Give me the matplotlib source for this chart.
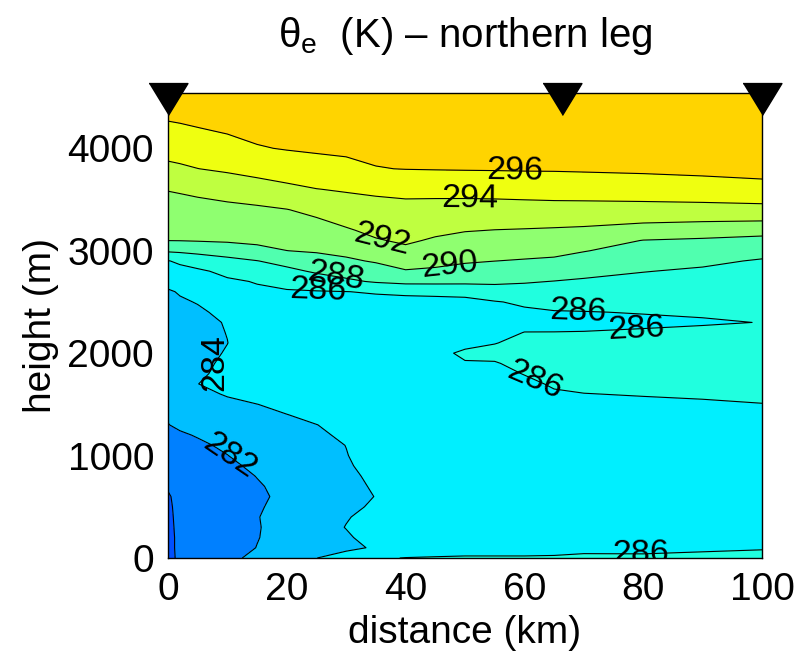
import matplotlib
matplotlib.use("Agg")
import matplotlib.pyplot as plt
import numpy as np

plt.rcParams["font.family"] = ["Liberation Sans", "DejaVu Sans"]
plt.rcParams["mathtext.fontset"] = "custom"
plt.rcParams["mathtext.rm"] = "Liberation Sans"
plt.rcParams["mathtext.it"] = "Liberation Sans:italic"

# section grid: distance along the leg (km) and height (m)
distance_km = [0, 2, 5, 10, 15, 20, 25, 30, 35, 40, 45, 50, 55, 60, 65, 70, 80, 90, 100]
height_m = [0, 100, 200, 300, 400, 500, 600, 700, 800, 900, 1000, 1100, 1200, 1300,
            1400, 1500, 1600, 1700, 1800, 1900, 2000, 2100, 2200, 2300, 2400, 2500,
            2600, 2700, 2800, 2900, 3000, 3100, 3200, 3400, 3600, 3800, 4000, 4200,
            4400, 4550]

# equivalent potential temperature (K), one row per height
theta_e = [
    [279.70, 280.20, 280.90, 281.60, 282.40, 283.20, 283.98, 284.80, 285.80, 286.05, 286.10, 286.10, 286.10, 286.10, 286.15, 286.20, 286.25, 286.35, 286.40],
    [279.75, 280.20, 280.90, 281.40, 282.03, 282.60, 283.10, 283.60, 284.20, 284.80, 285.30, 285.60, 285.60, 285.60, 285.55, 285.73, 285.63, 285.77, 285.90],
    [279.75, 280.20, 280.90, 281.40, 281.95, 282.50, 283.10, 283.80, 284.60, 285.10, 285.40, 285.40, 285.40, 285.40, 285.40, 285.40, 285.45, 285.50, 285.55],
    [279.80, 280.20, 280.95, 281.45, 281.92, 282.50, 283.30, 284.05, 284.80, 285.20, 285.40, 285.40, 285.40, 285.40, 285.40, 285.40, 285.45, 285.50, 285.50],
    [279.80, 280.25, 280.95, 281.45, 281.95, 282.50, 283.20, 283.90, 284.50, 285.00, 285.30, 285.35, 285.35, 285.35, 285.35, 285.35, 285.40, 285.40, 285.45],
    [279.85, 280.25, 281.00, 281.50, 281.90, 282.30, 282.90, 283.60, 284.25, 284.80, 285.20, 285.35, 285.35, 285.35, 285.35, 285.35, 285.40, 285.40, 285.45],
    [279.90, 280.30, 281.00, 281.50, 281.85, 282.20, 282.70, 283.35, 284.05, 284.70, 285.10, 285.30, 285.35, 285.35, 285.35, 285.35, 285.40, 285.40, 285.45],
    [280.10, 280.60, 281.05, 281.50, 281.90, 282.30, 282.80, 283.50, 284.20, 284.80, 285.20, 285.30, 285.35, 285.35, 285.35, 285.35, 285.40, 285.40, 285.45],
    [280.40, 280.80, 281.20, 281.60, 282.03, 282.50, 283.00, 283.60, 284.40, 284.90, 285.20, 285.35, 285.35, 285.35, 285.35, 285.35, 285.40, 285.40, 285.45],
    [280.70, 281.00, 281.35, 281.75, 282.25, 282.70, 283.20, 283.80, 284.60, 285.00, 285.20, 285.35, 285.35, 285.35, 285.35, 285.35, 285.40, 285.40, 285.45],
    [281.00, 281.30, 281.60, 281.98, 282.50, 283.00, 283.45, 283.95, 284.60, 285.00, 285.20, 285.35, 285.35, 285.35, 285.35, 285.35, 285.40, 285.40, 285.45],
    [281.30, 281.55, 281.80, 282.20, 282.70, 283.15, 283.55, 284.02, 284.60, 285.00, 285.20, 285.35, 285.35, 285.35, 285.35, 285.35, 285.40, 285.40, 285.45],
    [281.65, 281.85, 282.08, 282.50, 282.95, 283.35, 283.75, 284.25, 284.70, 285.00, 285.20, 285.35, 285.35, 285.35, 285.35, 285.35, 285.40, 285.40, 285.45],
    [281.97, 282.20, 282.50, 282.85, 283.20, 283.55, 283.98, 284.40, 284.75, 285.00, 285.20, 285.35, 285.35, 285.35, 285.35, 285.35, 285.40, 285.45, 285.50],
    [282.12, 282.35, 282.70, 283.10, 283.50, 283.98, 284.40, 284.70, 284.90, 285.05, 285.20, 285.35, 285.35, 285.40, 285.40, 285.40, 285.40, 285.50, 285.60],
    [282.27, 282.55, 282.95, 283.45, 283.98, 284.45, 284.75, 284.95, 285.05, 285.10, 285.20, 285.35, 285.40, 285.45, 285.50, 285.60, 285.75, 285.85, 285.97],
    [282.42, 282.80, 283.35, 284.20, 284.65, 284.90, 285.00, 285.10, 285.10, 285.15, 285.20, 285.35, 285.45, 285.55, 285.85, 285.97, 286.07, 286.15, 286.25],
    [282.57, 283.10, 283.98, 284.60, 284.85, 285.00, 285.05, 285.10, 285.10, 285.15, 285.20, 285.40, 285.50, 285.70, 286.15, 286.30, 286.40, 286.45, 286.45],
    [282.72, 283.20, 283.85, 284.25, 284.80, 285.00, 285.05, 285.10, 285.15, 285.20, 285.25, 285.50, 285.60, 286.05, 286.40, 286.50, 286.60, 286.60, 286.60],
    [282.86, 283.30, 283.80, 284.15, 284.70, 284.95, 285.05, 285.10, 285.15, 285.20, 285.30, 285.90, 285.90, 286.40, 286.55, 286.60, 286.70, 286.70, 286.65],
    [283.01, 283.35, 283.70, 284.07, 284.60, 284.90, 285.05, 285.10, 285.15, 285.20, 285.60, 286.25, 286.40, 286.50, 286.55, 286.60, 286.70, 286.70, 286.60],
    [283.16, 283.45, 283.70, 283.99, 284.50, 284.85, 285.00, 285.10, 285.15, 285.20, 285.30, 285.60, 285.95, 286.35, 286.40, 286.45, 286.55, 286.60, 286.45],
    [283.31, 283.55, 283.75, 284.02, 284.50, 284.85, 285.00, 285.10, 285.10, 285.15, 285.20, 285.30, 285.60, 286.03, 286.03, 286.06, 286.20, 286.35, 286.20],
    [283.46, 283.65, 283.80, 284.05, 284.60, 284.90, 285.05, 285.10, 285.10, 285.15, 285.20, 285.20, 285.50, 285.60, 285.65, 285.60, 285.70, 285.85, 286.03],
    [283.61, 283.78, 283.88, 284.20, 284.75, 285.00, 285.15, 285.20, 285.20, 285.20, 285.20, 285.30, 285.60, 285.75, 285.90, 285.95, 286.07, 286.18, 286.25],
    [283.76, 283.90, 284.04, 284.98, 285.48, 285.53, 285.56, 285.59, 285.61, 285.62, 285.62, 285.60, 285.90, 286.25, 286.56, 286.55, 286.57, 286.58, 286.55],
    [283.90, 284.07, 284.61, 285.37, 285.75, 285.85, 285.91, 285.98, 286.12, 286.24, 286.32, 286.48, 287.16, 287.29, 287.26, 287.17, 287.06, 286.98, 286.85],
    [284.29, 284.75, 285.17, 285.76, 286.09, 286.54, 287.00, 287.65, 288.20, 288.55, 288.55, 288.48, 288.35, 288.15, 287.96, 287.78, 287.55, 287.38, 287.20],
    [285.10, 285.42, 285.72, 286.41, 287.02, 287.51, 288.26, 288.76, 289.20, 289.87, 289.71, 289.37, 289.18, 289.01, 288.84, 288.51, 288.05, 287.78, 287.55],
    [285.92, 286.32, 286.83, 287.44, 287.95, 288.67, 289.30, 289.71, 290.17, 290.78, 290.49, 290.19, 290.01, 289.87, 289.72, 289.29, 288.68, 288.32, 287.85],
    [288.26, 288.36, 288.57, 288.95, 289.54, 289.99, 290.17, 290.47, 291.02, 291.65, 291.15, 290.83, 290.66, 290.57, 290.46, 290.08, 289.32, 289.03, 288.58],
    [290.02, 290.04, 290.11, 290.22, 290.33, 290.49, 290.71, 291.15, 291.87, 292.24, 291.80, 291.46, 291.32, 291.23, 291.14, 290.89, 289.95, 289.74, 289.42],
    [290.41, 290.45, 290.53, 290.65, 290.78, 290.98, 291.25, 291.83, 292.39, 292.64, 292.35, 292.09, 291.97, 291.90, 291.81, 291.70, 291.25, 290.98, 290.75],
    [291.22, 291.28, 291.37, 291.52, 291.68, 291.95, 292.45, 293.00, 293.30, 293.45, 293.35, 293.28, 293.27, 293.31, 293.35, 293.35, 293.37, 293.41, 293.49],
    [292.08, 292.19, 292.40, 292.77, 293.16, 293.58, 293.96, 294.18, 294.36, 294.49, 294.54, 294.59, 294.65, 294.73, 294.80, 294.84, 294.93, 295.05, 295.22],
    [293.58, 293.73, 293.98, 294.29, 294.65, 294.97, 295.32, 295.58, 295.94, 296.04, 296.08, 296.11, 296.13, 296.16, 296.17, 296.22, 296.33, 296.51, 296.78],
    [294.70, 294.80, 295.00, 295.36, 295.88, 296.10, 296.23, 296.30, 296.38, 296.41, 296.43, 296.45, 296.47, 296.50, 296.52, 296.55, 296.62, 296.72, 296.90],
    [295.66, 295.78, 295.98, 296.28, 296.51, 296.61, 296.69, 296.74, 296.79, 296.80, 296.81, 296.81, 296.82, 296.82, 296.83, 296.84, 296.88, 296.95, 297.05],
    [296.70, 296.76, 296.86, 296.98, 297.08, 297.12, 297.15, 297.17, 297.19, 297.20, 297.20, 297.21, 297.21, 297.21, 297.21, 297.21, 297.22, 297.25, 297.30],
    [297.50, 297.50, 297.50, 297.50, 297.50, 297.50, 297.50, 297.50, 297.50, 297.50, 297.50, 297.50, 297.50, 297.50, 297.50, 297.50, 297.50, 297.50, 297.50],
]

fill_levels = [270, 280, 282, 284, 286, 288, 290, 292, 294, 296, 300]
line_levels = [280, 282, 284, 286, 288, 290, 292, 294, 296]
band_colors = ["#0050ff", "#0080ff", "#00bfff", "#00efff", "#20ffdf",
               "#50ffaf", "#8fff70", "#bfff40", "#efff10", "#ffd400"]

# dropsonde release points along the leg
sonde_km = [0, 66.3, 100]

# where the contour labels sit (km, m)
label_spots = [(58.4, 3766), (50.8, 3512), (35.7, 3054), (47.5, 2850),
               (28.1, 2712), (25.3, 2600), (7.4, 1930), (10.1, 976),
               (69.0, 2400), (78.8, 2225), (61.8, 1737), (79.5, 45)]

x = np.array(distance_km)
y = np.array(height_m)
z = np.array(theta_e)

fig = plt.figure(figsize=(7.99, 6.57), dpi=100)
ax = fig.add_axes([168 / 799, 1 - 558 / 657, (762 - 168) / 799, (558 - 93) / 657])

ax.contourf(x, y, z, levels=fill_levels, colors=band_colors)
cs = ax.contour(x, y, z, levels=line_levels, colors="k", linewidths=0.8)
labels = ax.clabel(cs, manual=label_spots, inline=False, fontsize=24.5, fmt="%d")
for t in labels:
    # the 284 label stands upright along the steep part of the contour
    if t.get_text() == "284":
        t.set_rotation(90)

tri = [(-1.22, 1), (1.22, 1), (0, -1)]
ax.plot(sonde_km, [4482] * len(sonde_km), linestyle="none", marker=tri,
        markersize=28, color="k", clip_on=False, zorder=10)

ax.set_xlim(0, 100)
ax.set_ylim(0, 4540)
ax.set_xticks([0, 20, 40, 60, 80, 100])
ax.set_yticks([0, 1000, 2000, 3000, 4000])
ax.tick_params(length=0, labelsize=28, pad=10)
for sp in ax.spines.values():
    sp.set_linewidth(1.0)

ax.set_xlabel("distance (km)", fontsize=28, labelpad=5)
ax.set_ylabel("height (m)", fontsize=28, labelpad=6)
ax.set_title(r"$\mathrm{\theta_e}$  (K) – northern leg", fontsize=29, pad=33)

fig.savefig("out.png", dpi=100)
